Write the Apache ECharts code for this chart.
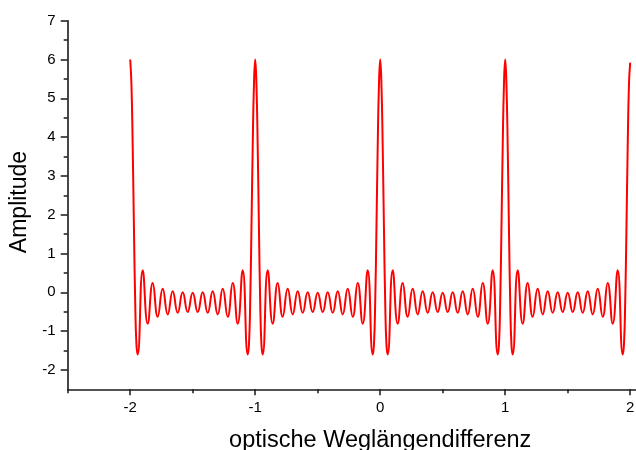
<!DOCTYPE html>
<html>
<head>
<meta charset="utf-8">
<title>Amplitude über optische Weglängendifferenz</title>
<script src="https://cdn.jsdelivr.net/npm/echarts@6/dist/echarts.min.js"></script>
<style>
  html, body { margin: 0; padding: 0; background: #ffffff; overflow: hidden; width: 636px; height: 450px; }
  #chart { width: 760px; height: 450px; }
</style>
</head>
<body>
<div id="chart"></div>
<script>
// Optical path difference (x) and the measured amplitude (y), one row per half period
const weg = [
  -2.00, -1.99, -1.98, -1.97, -1.96, -1.95, -1.94, -1.90, -1.86, -1.82, -1.78, -1.74, -1.70, -1.66, -1.62, -1.58, -1.54,
  -1.50, -1.46, -1.42, -1.38, -1.34, -1.30, -1.26, -1.22, -1.18, -1.14, -1.10, -1.06, -1.05, -1.04, -1.03, -1.02, -1.01,
  -1.00, -0.99, -0.98, -0.97, -0.96, -0.95, -0.94, -0.90, -0.86, -0.82, -0.78, -0.74, -0.70, -0.66, -0.62, -0.58, -0.54,
  -0.50, -0.46, -0.42, -0.38, -0.34, -0.30, -0.26, -0.22, -0.18, -0.14, -0.10, -0.06, -0.05, -0.04, -0.03, -0.02, -0.01,
   0.00,  0.01,  0.02,  0.03,  0.04,  0.05,  0.06,  0.10,  0.14,  0.18,  0.22,  0.26,  0.30,  0.34,  0.38,  0.42,  0.46,
   0.50,  0.54,  0.58,  0.62,  0.66,  0.70,  0.74,  0.78,  0.82,  0.86,  0.90,  0.94,  0.95,  0.96,  0.97,  0.98,  0.99,
   1.00,  1.01,  1.02,  1.03,  1.04,  1.05,  1.06,  1.10,  1.14,  1.18,  1.22,  1.26,  1.30,  1.34,  1.38,  1.42,  1.46,
   1.50,  1.54,  1.58,  1.62,  1.66,  1.70,  1.74,  1.78,  1.82,  1.86,  1.90,  1.94,  1.95,  1.96,  1.97,  1.98,  1.99,
   2.00
];
const amplitude = [
  6.00, 5.35, 3.75, 1.65, -0.25, -1.35, -1.60, 0.57, -0.81, 0.24, -0.63, 0.09, -0.57, 0.03, -0.53, 0.00, -0.51,
  -0.01, -0.51, 0.00, -0.53, 0.03, -0.57, 0.09, -0.63, 0.24, -0.81, 0.57, -1.60, -1.35, -0.25, 1.65, 3.75, 5.35,
  6.00, 5.35, 3.75, 1.65, -0.25, -1.35, -1.60, 0.57, -0.81, 0.24, -0.63, 0.09, -0.57, 0.03, -0.53, 0.00, -0.51,
  -0.01, -0.51, 0.00, -0.53, 0.03, -0.57, 0.09, -0.63, 0.24, -0.81, 0.57, -1.60, -1.35, -0.25, 1.65, 3.75, 5.35,
  6.00, 5.35, 3.75, 1.65, -0.25, -1.35, -1.60, 0.57, -0.81, 0.24, -0.63, 0.09, -0.57, 0.03, -0.53, 0.00, -0.51,
  -0.01, -0.51, 0.00, -0.53, 0.03, -0.57, 0.09, -0.63, 0.24, -0.81, 0.57, -1.60, -1.35, -0.25, 1.65, 3.75, 5.35,
  6.00, 5.35, 3.75, 1.65, -0.25, -1.35, -1.60, 0.57, -0.81, 0.24, -0.63, 0.09, -0.57, 0.03, -0.53, 0.00, -0.51,
  -0.01, -0.51, 0.00, -0.53, 0.03, -0.57, 0.09, -0.63, 0.24, -0.81, 0.57, -1.60, -1.35, -0.25, 1.65, 3.75, 5.35,
  5.92
];

// Axis ticks: labelled major ticks and short unlabelled minor ticks
const xMajorTicks = [-2, -1, 0, 1, 2];
const xMinorTicks = [-2.5, -1.5, -0.5, 0.5, 1.5, 2.5];
const yMajorTicks = [-2, -1, 0, 1, 2, 3, 4, 5, 6, 7];
const yMinorTicks = [-1.5, -0.5, 0.5, 1.5, 2.5, 3.5, 4.5, 5.5, 6.5];

const FONT = "'Liberation Sans', Arial, sans-serif";
const AXIS_COLOR = '#1a1a1a';

const seriesData = weg.map((x, i) => [x, amplitude[i]]);

const chart = echarts.init(document.getElementById('chart'), null, { renderer: 'canvas' });

chart.setOption({
  backgroundColor: '#ffffff',
  animation: false,
  grid: {
    left: 67.7, right: 67.3, top: 20.7, bottom: 60.7,
    containLabel: false, outerBoundsMode: 'none'
  },
  xAxis: [
    {
      type: 'value', min: -2.5, max: 2.5, position: 'bottom',
      name: 'optische Weglängendifferenz', nameLocation: 'middle', nameGap: 39,
      nameTextStyle: { fontFamily: FONT, fontSize: 23.5, color: '#000' },
      axisLine: { onZero: false, lineStyle: { color: AXIS_COLOR, width: 1.6 } },
      axisTick: { customValues: xMajorTicks, length: 6, lineStyle: { color: AXIS_COLOR, width: 1.5 } },
      axisLabel: { customValues: xMajorTicks, margin: 11, fontFamily: FONT, fontSize: 15, color: '#000' },
      splitLine: { show: false }
    },
    {
      type: 'value', min: -2.5, max: 2.5, position: 'bottom',
      axisLine: { show: false, onZero: false },
      axisTick: { customValues: xMinorTicks, length: 4, lineStyle: { color: AXIS_COLOR, width: 1.5 } },
      axisLabel: { show: false },
      splitLine: { show: false }
    }
  ],
  yAxis: [
    {
      type: 'value', min: -2.5, max: 7, position: 'left',
      name: 'Amplitude', nameLocation: 'middle', nameGap: 36,
      nameTextStyle: { fontFamily: FONT, fontSize: 23, color: '#000', padding: [0, 0, 0, 6] },
      axisLine: { show: true, onZero: false, lineStyle: { color: AXIS_COLOR, width: 1.6 } },
      axisTick: { show: true, customValues: yMajorTicks, length: 7, lineStyle: { color: AXIS_COLOR, width: 1.5 } },
      axisLabel: { customValues: yMajorTicks, margin: 12, fontFamily: FONT, fontSize: 15, color: '#000' },
      splitLine: { show: false }
    },
    {
      type: 'value', min: -2.5, max: 7, position: 'left',
      axisLine: { show: false, onZero: false },
      axisTick: { show: true, customValues: yMinorTicks, length: 4, lineStyle: { color: AXIS_COLOR, width: 1.5 } },
      axisLabel: { show: false },
      splitLine: { show: false }
    }
  ],
  series: [
    {
      type: 'line',
      xAxisIndex: 0,
      yAxisIndex: 0,
      data: seriesData,
      showSymbol: false,
      symbol: 'none',
      smooth: 0.5,
      lineStyle: { color: '#ff0000', width: 2 },
      clip: true
    }
  ]
});
</script>
</body>
</html>
